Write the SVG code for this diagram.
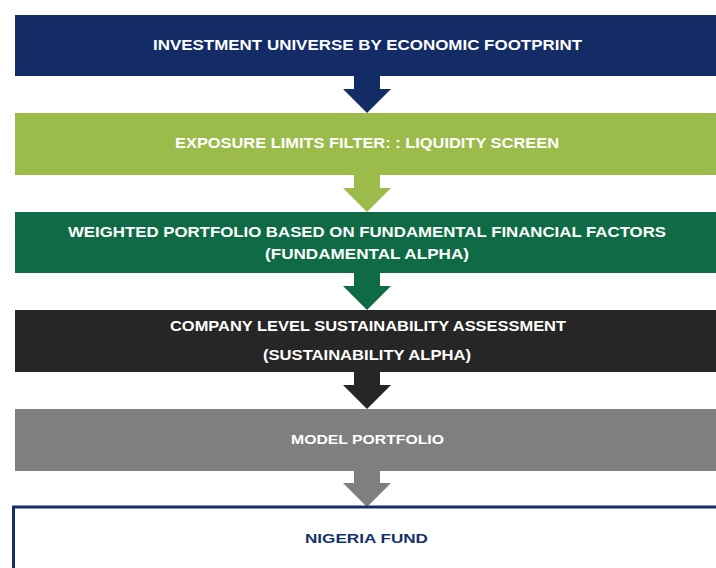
<svg xmlns="http://www.w3.org/2000/svg" width="716" height="568" viewBox="0 0 716 568">
<style>
  .t { font-family: "Liberation Sans", Arial, sans-serif; font-weight: bold; font-size: 14px; fill: #ffffff; text-anchor: middle; }
  .s { font-size: 12.5px; }
  .n { fill: #14306b; }
</style>
<rect x="0" y="0" width="716" height="568" fill="#ffffff"/>
<g id="connectors">
  <path d="M354,76 V89 H343 L367,113 L391,89 H380 V76 Z" fill="#132c66"/>
  <path d="M354,175 V188 H343 L367,212 L391,188 H380 V175 Z" fill="#9bbb4a"/>
  <path d="M354,273 V286 H343 L367,310 L391,286 H380 V273 Z" fill="#0e6b45"/>
  <path d="M354,372 V385 H343 L367,409 L391,385 H380 V372 Z" fill="#262626"/>
  <path d="M354,471 V483 H343 L367,507 L391,483 H380 V471 Z" fill="#7f7f7f"/>
</g>
<g id="n1">
  <rect x="15" y="15" width="705" height="61" fill="#132c66"/>
  <text class="t" x="367.5" y="50" textLength="429" lengthAdjust="spacingAndGlyphs">INVESTMENT UNIVERSE BY ECONOMIC FOOTPRINT</text>
</g>
<g id="n2">
  <rect x="15" y="113" width="705" height="62" fill="#9bbb4a"/>
  <text class="t" x="367" y="148" textLength="384" lengthAdjust="spacingAndGlyphs">EXPOSURE LIMITS FILTER: : LIQUIDITY SCREEN</text>
</g>
<g id="n3">
  <rect x="15" y="212" width="705" height="61" fill="#0e6b45"/>
  <text class="t" x="367" y="237" textLength="598" lengthAdjust="spacingAndGlyphs">WEIGHTED PORTFOLIO BASED ON FUNDAMENTAL FINANCIAL FACTORS</text>
  <text class="t" x="367" y="259" textLength="204" lengthAdjust="spacingAndGlyphs">(FUNDAMENTAL ALPHA)</text>
</g>
<g id="n4">
  <rect x="15" y="310" width="705" height="62" fill="#262626"/>
  <text class="t" x="368" y="331" textLength="396" lengthAdjust="spacingAndGlyphs">COMPANY LEVEL SUSTAINABILITY ASSESSMENT</text>
  <text class="t" x="367" y="360" textLength="208" lengthAdjust="spacingAndGlyphs">(SUSTAINABILITY ALPHA)</text>
</g>
<g id="n5">
  <rect x="15" y="409" width="705" height="62" fill="#7f7f7f"/>
  <text class="t s" x="367.5" y="444" textLength="153" lengthAdjust="spacingAndGlyphs">MODEL PORTFOLIO</text>
</g>
<g id="n6">
  <rect x="13.5" y="507" width="710" height="70" fill="#ffffff" stroke="#14306b" stroke-width="3"/>
  <text class="t s n" x="366.5" y="543" textLength="123" lengthAdjust="spacingAndGlyphs">NIGERIA FUND</text>
</g>
</svg>
